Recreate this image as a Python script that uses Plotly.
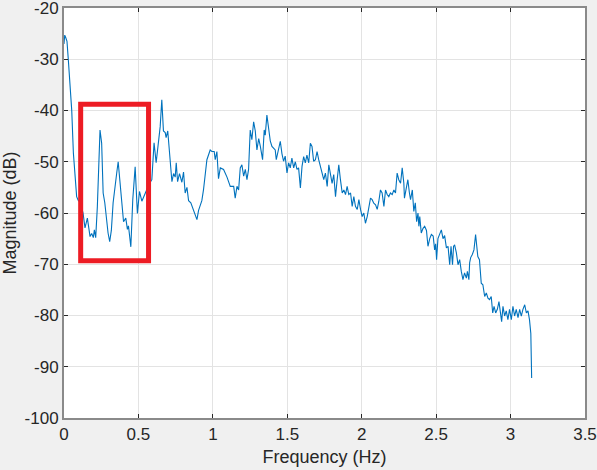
import plotly.graph_objects as go

freq = [
    0.000, 0.005, 0.012, 0.020, 0.029, 0.040, 0.052, 0.063, 0.074, 0.085,
    0.095, 0.110, 0.128, 0.141, 0.157, 0.175, 0.186, 0.197, 0.204, 0.213,
    0.224, 0.235, 0.242, 0.253, 0.263, 0.274, 0.285, 0.296, 0.307, 0.318,
    0.330, 0.341, 0.355, 0.364, 0.374, 0.384, 0.393, 0.400, 0.415, 0.426,
    0.433, 0.449, 0.462, 0.478, 0.493, 0.507, 0.523, 0.535, 0.552, 0.570,
    0.590, 0.605, 0.619, 0.635, 0.646, 0.657, 0.668, 0.680, 0.686, 0.697,
    0.709, 0.725, 0.736, 0.747, 0.754, 0.763, 0.776, 0.792, 0.803, 0.814,
    0.826, 0.837, 0.852, 0.866, 0.881, 0.893, 0.904, 0.926, 0.937, 0.949,
    0.960, 0.982, 0.993, 1.009, 1.016, 1.027, 1.038,
    1.050, 1.072, 1.095, 1.117, 1.140, 1.150, 1.162, 1.173, 1.184, 1.195,
    1.207, 1.218, 1.229, 1.240, 1.251, 1.262, 1.274, 1.285, 1.296, 1.308,
    1.319, 1.334, 1.345, 1.352, 1.363, 1.374, 1.386, 1.397, 1.419, 1.426,
    1.442, 1.453, 1.464, 1.475, 1.486, 1.498, 1.509, 1.520, 1.531, 1.543,
    1.554, 1.565, 1.576, 1.588, 1.599, 1.610, 1.621, 1.632, 1.644, 1.655,
    1.666, 1.677, 1.689, 1.700, 1.711, 1.723, 1.734, 1.745, 1.756, 1.768,
    1.779, 1.790, 1.801, 1.812, 1.824, 1.835, 1.846, 1.857, 1.869, 1.880,
    1.891, 1.902, 1.913, 1.925, 1.936, 1.947, 1.958, 1.970, 1.981, 1.992,
    2.003, 2.014, 2.025, 2.037, 2.048, 2.059, 2.070, 2.081, 2.093, 2.104,
    2.115, 2.126, 2.137, 2.149, 2.160, 2.171, 2.182, 2.193, 2.205, 2.216,
    2.227, 2.238, 2.249, 2.261, 2.272,
    2.283, 2.287, 2.300, 2.310, 2.320, 2.328, 2.340, 2.350, 2.360, 2.369,
    2.378, 2.384, 2.390, 2.400, 2.412, 2.423, 2.435, 2.445, 2.457, 2.468,
    2.480, 2.490, 2.497, 2.503, 2.512, 2.524, 2.535, 2.546, 2.557, 2.569,
    2.580, 2.591, 2.600, 2.610, 2.617, 2.624, 2.636, 2.647, 2.658, 2.669,
    2.680, 2.691, 2.703, 2.710, 2.720, 2.725, 2.732, 2.743, 2.754, 2.765,
    2.772, 2.780, 2.791, 2.803, 2.814, 2.826, 2.837, 2.848, 2.859, 2.870,
    2.880, 2.889, 2.900, 2.911, 2.922, 2.933, 2.940, 2.949, 2.960, 2.971,
    2.982, 2.993, 3.005, 3.016, 3.027, 3.038, 3.050, 3.061, 3.072, 3.083,
    3.095, 3.106, 3.117, 3.127, 3.136, 3.1416,
]

magnitude_db = [
    -27.0, -25.3, -25.8, -26.5, -30.1, -35.3, -40.0, -48.3, -52.0, -56.8,
    -57.5, -58.0, -60.0, -62.9, -61.0, -64.6, -64.0, -64.8, -63.3, -64.8,
    -58.8, -50.0, -43.8, -46.4, -56.1, -58.0, -61.0, -63.9, -65.6, -63.4,
    -58.0, -54.8, -52.0, -50.0, -53.0, -57.4, -60.0, -61.7, -61.0, -63.2,
    -62.5, -66.6, -57.4, -51.0, -60.1, -55.8, -57.7, -56.8, -55.5, -54.5,
    -53.5, -46.3, -50.2, -46.3, -43.2, -37.9, -44.0, -44.3, -45.3, -44.0,
    -48.2, -53.9, -52.3, -53.0, -50.2, -53.9, -52.3, -54.0, -52.0, -56.1,
    -55.0, -57.6, -58.0, -59.0, -60.1, -61.3, -59.5, -57.6, -55.5, -51.6,
    -49.6, -47.7, -48.0, -48.0, -49.6, -48.0, -53.3,
    -51.2, -51.5, -53.0, -54.8, -54.8, -57.1, -54.8, -55.5, -51.2, -50.6,
    -52.8, -51.5, -53.5, -51.5, -43.8, -45.7, -42.2, -44.0, -47.7, -45.5,
    -47.0, -49.6, -43.8, -44.8, -40.9, -43.2, -46.0, -47.0, -47.7, -49.6,
    -47.0, -46.0, -48.4, -49.9, -48.9, -52.2, -50.2, -51.2, -49.3, -51.2,
    -50.0, -51.5, -51.2, -55.1, -50.9, -49.0, -50.2, -48.7, -50.2, -46.4,
    -47.0, -49.9, -49.6, -48.0, -49.6, -50.9, -52.5, -53.5, -52.2, -54.8,
    -50.6, -52.2, -54.2, -52.5, -56.8, -53.5, -50.6, -53.5, -56.1, -55.5,
    -56.4, -54.8, -56.4, -56.1, -58.7, -56.8, -58.7, -59.3, -57.4, -59.3,
    -60.7, -60.0, -62.0, -60.7, -59.1, -57.1, -57.4, -58.1, -58.4, -59.3,
    -57.7, -55.5, -56.1, -58.7, -55.5, -56.4, -56.8, -56.1, -56.4, -55.5,
    -56.1, -52.2, -53.5, -54.2, -51.2,
    -54.2, -57.1, -55.0, -53.5, -56.0, -57.4, -55.5, -59.7, -58.0, -61.7,
    -60.0, -62.6, -60.7, -63.9, -63.0, -62.6, -63.4, -66.5, -65.0, -64.2,
    -64.5, -67.2, -66.0, -69.1, -65.0, -64.2, -63.3, -65.0, -64.4, -66.8,
    -66.5, -70.1, -66.5, -70.1, -66.5, -66.2, -67.8, -70.1, -69.1, -71.4,
    -73.0, -71.7, -72.7, -71.4, -73.0, -69.7, -68.7, -68.1, -67.2, -64.2,
    -66.2, -68.5, -69.1, -73.7, -74.0, -76.3, -75.6, -76.6, -76.9, -76.3,
    -79.5, -78.2, -79.5, -78.8, -77.3, -79.5, -81.2, -78.2, -80.1, -79.1,
    -80.8, -78.8, -80.8, -78.2, -80.1, -78.8, -80.4, -78.8, -80.1, -78.8,
    -77.9, -79.5, -79.1, -80.8, -83.5, -92.2,
]

x_ticks = [0, 0.5, 1, 1.5, 2, 2.5, 3, 3.5]
x_tick_labels = ["0", "0.5", "1", "1.5", "2", "2.5", "3", "3.5"]
y_ticks = [-100, -90, -80, -70, -60, -50, -40, -30, -20]
y_tick_labels = ["-100", "-90", "-80", "-70", "-60", "-50", "-40", "-30", "-20"]

highlight_x = [0.112, 0.568]
highlight_y = [-69.3, -38.8]

font_family = "Liberation Sans, Arial, sans-serif"
text_color = "#262626"

fig = go.Figure()
fig.add_trace(go.Scatter(
    x=freq, y=magnitude_db, mode="lines",
    line=dict(color="#0072BD", width=1.1),
    showlegend=False, hoverinfo="skip",
))

fig.add_shape(
    type="rect", xref="x", yref="y",
    x0=highlight_x[0], x1=highlight_x[1], y0=highlight_y[0], y1=highlight_y[1],
    line=dict(color="#ED1C24", width=5), fillcolor="rgba(0,0,0,0)",
)

axis_common = dict(
    showgrid=True, gridcolor="#e3e3e3", gridwidth=1,
    showline=True, linecolor="#8a8a8a", linewidth=2, mirror="ticks",
    ticks="inside", ticklen=4, tickcolor=text_color, tickwidth=1,
    zeroline=False, automargin=False, ticklabeloverflow="allow",
    tickfont=dict(family=font_family, size=17, color=text_color),
)

fig.update_layout(
    width=597, height=470,
    margin=dict(l=64, r=12, t=8, b=52),
    paper_bgcolor="#f0f0f0", plot_bgcolor="#ffffff",
    font=dict(family=font_family, size=17, color=text_color),
    xaxis=dict(
        range=[0, 3.5], tickvals=x_ticks, ticktext=x_tick_labels,
        title=dict(text="Frequency (Hz)", font=dict(family=font_family, size=18, color=text_color), standoff=7),
        **axis_common,
    ),
    yaxis=dict(
        range=[-100, -20], tickvals=y_ticks, ticktext=y_tick_labels,
        title=dict(text="Magnitude (dB)", font=dict(family=font_family, size=18, color=text_color), standoff=4),
        **axis_common,
    ),
)

fig.write_html(
    "out.html",
    config={"displayModeBar": False},
    post_script="document.body.style.margin='0';document.body.style.background='#f0f0f0';document.documentElement.style.overflow='hidden';",
)
